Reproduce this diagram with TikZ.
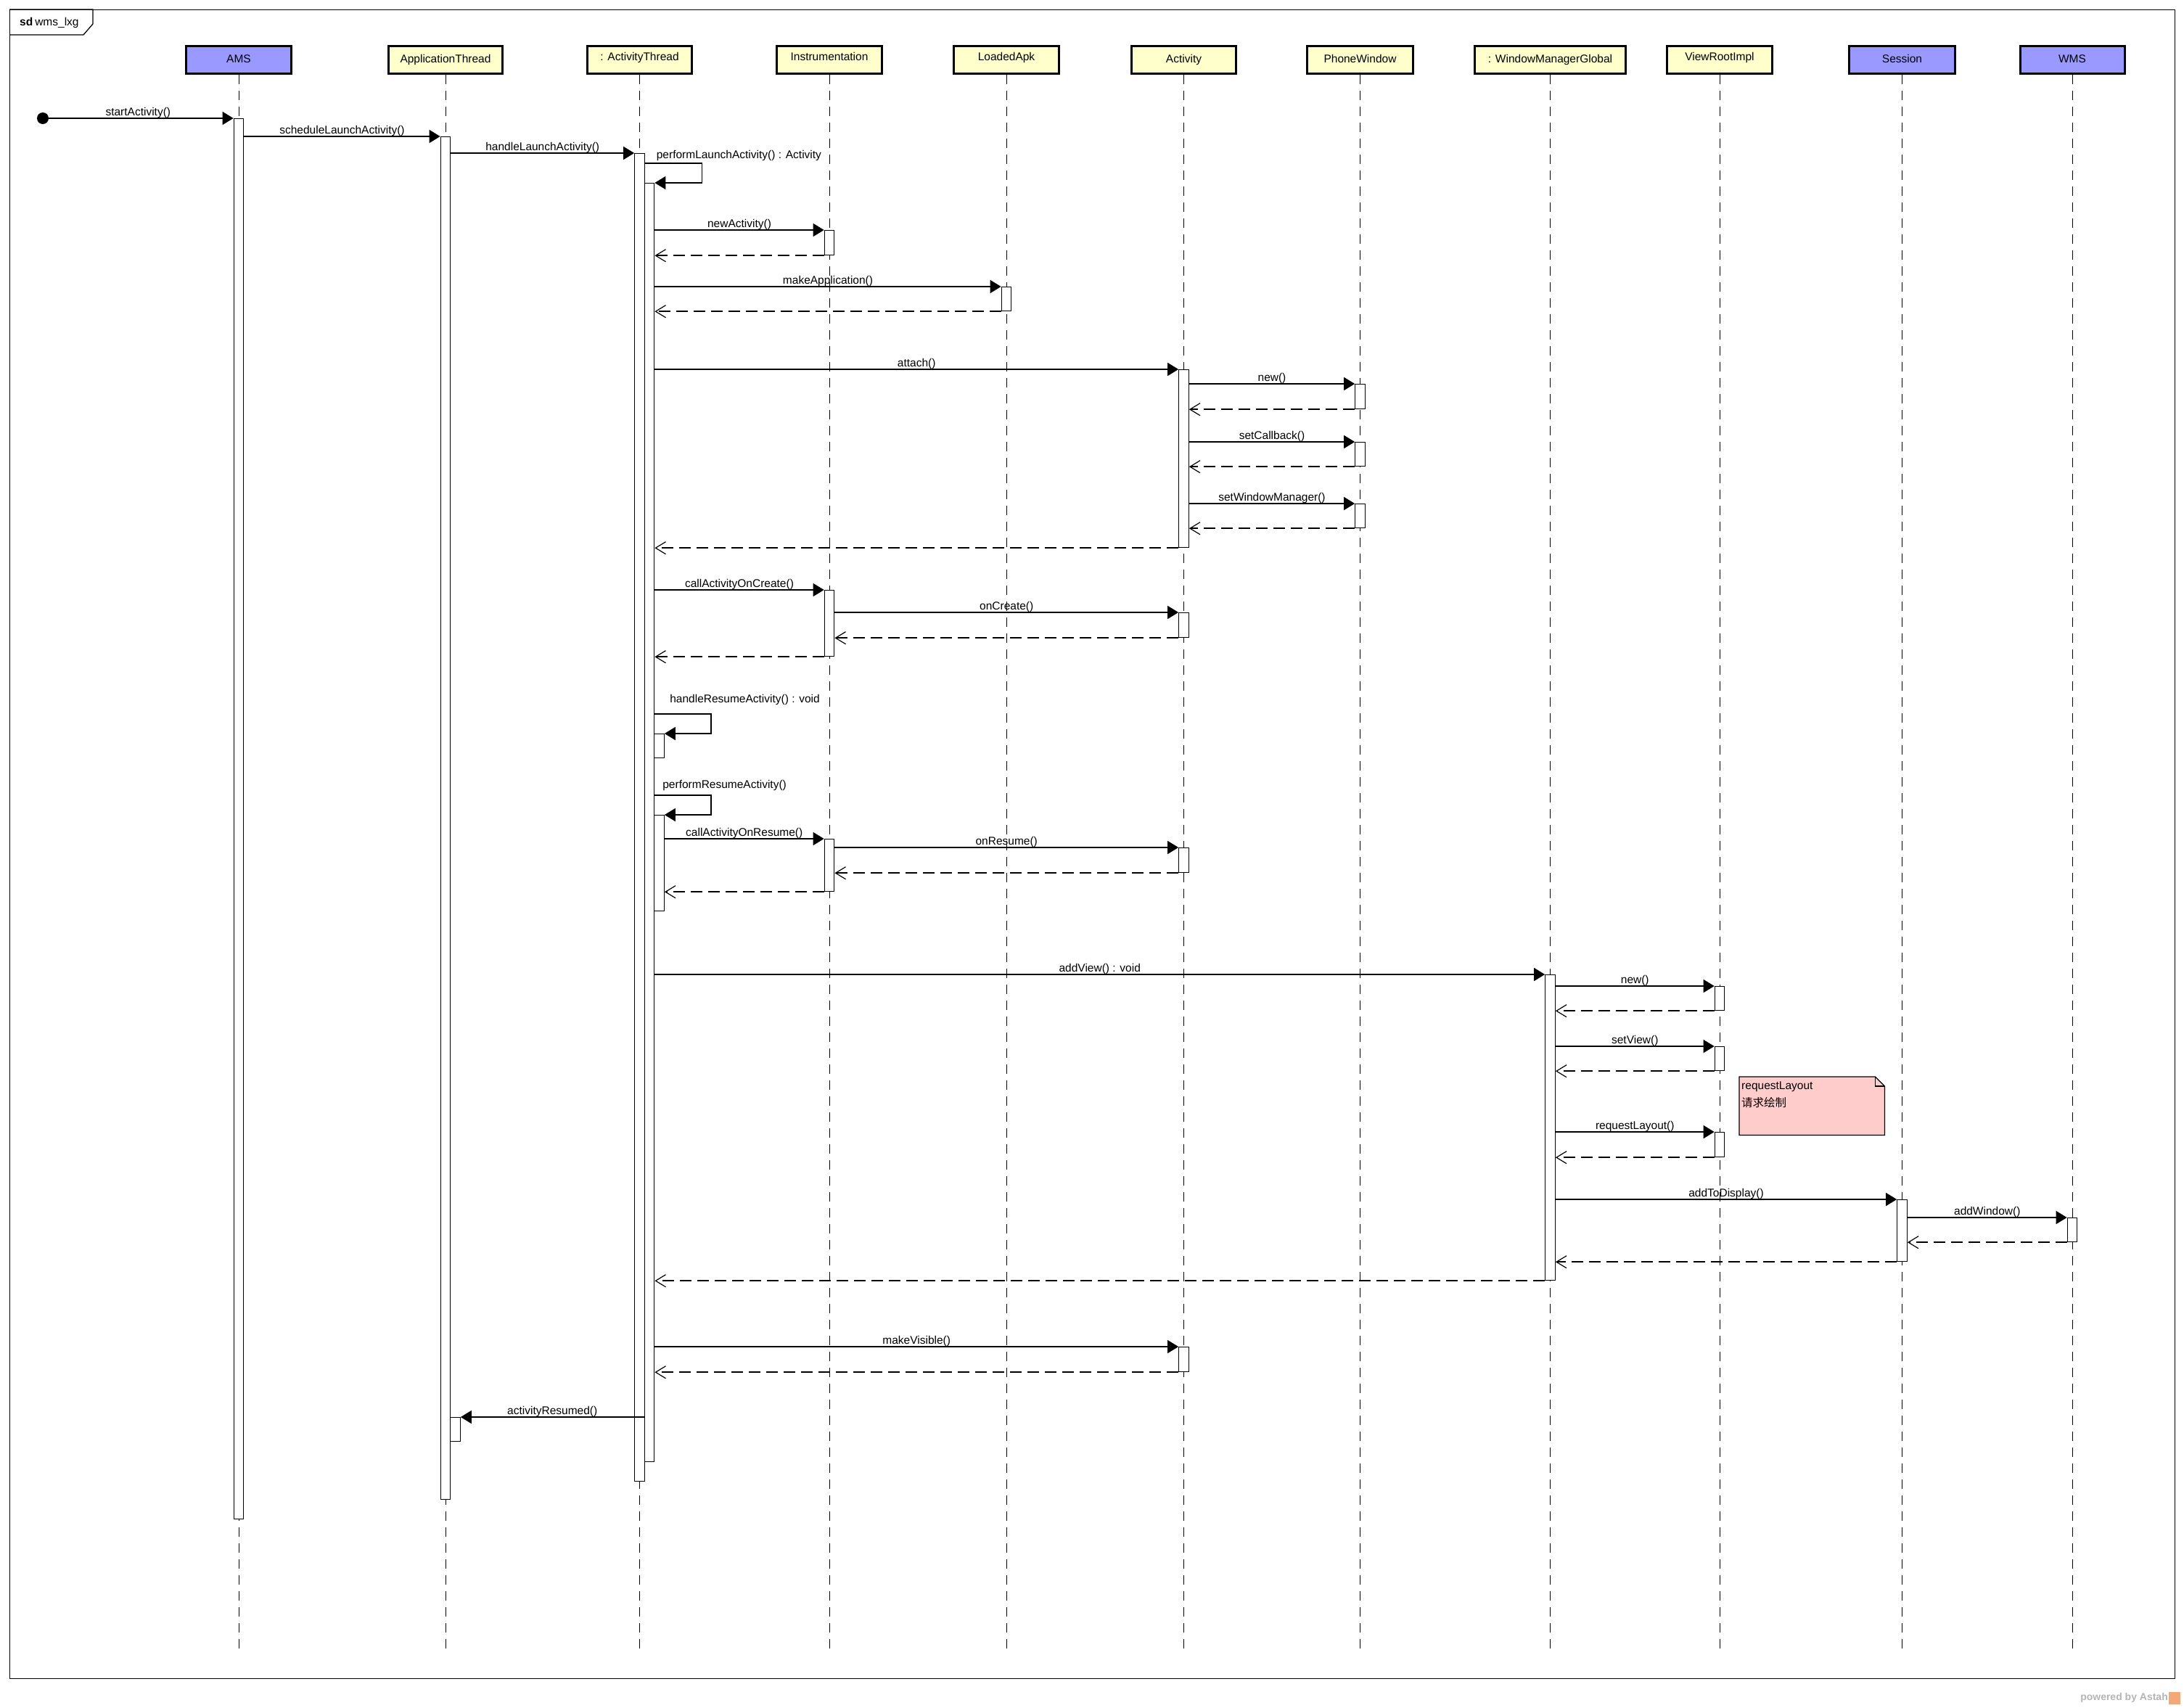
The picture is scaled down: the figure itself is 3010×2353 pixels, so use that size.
\documentclass[tikz,border=0pt]{standalone}
\usepackage{fontspec}
\setmainfont{Liberation Sans}
\newfontfamily\cjkfont{Noto Sans CJK SC}
\usetikzlibrary{arrows.meta}
\definecolor{hdrblue}{HTML}{9999FF}
\definecolor{hdryellow}{HTML}{FFFFCC}
\definecolor{notepink}{HTML}{FFCCCC}
\definecolor{astahgray}{HTML}{B4B4B4}
\definecolor{astahorange}{HTML}{F4A878}
\begin{document}
\begin{tikzpicture}[x=1pt,y=-1pt,
  font=\fontsize{15.5}{18}\selectfont,
  hdr/.style={draw, line width=3pt, minimum height=38pt, inner sep=0pt, text height=11pt, text depth=3pt},
  hdrup/.style={hdr, text depth=9pt},
  lifeline/.style={line width=1pt, dash pattern=on 13pt off 9pt},
  bar/.style={draw, fill=white, line width=1.2pt, minimum width=13.5pt, inner sep=0pt, anchor=north},
  msg/.style={line width=1.5pt, -{Triangle[length=15pt,width=18pt]}},
  ret/.style={line width=1.5pt, dash pattern=on 16pt off 8pt, -{Straight Barb[length=14pt,width=17pt,line width=1.2pt]}},
  lbl/.style={midway, above, inner sep=0pt},
  slbl/.style={anchor=west, inner sep=0pt}]
\useasboundingbox (0,0) rectangle (3010,2353);

% frame
\node[draw, line width=1.3pt, minimum width=2984pt, minimum height=2300pt, anchor=north west, inner sep=0pt] (frame) at (13,13) {};
\draw[line width=1.3pt] (frame.north west) -- ++(115,0) -- ++(0,20) -- ++(-13,15) -- ++(-102,0);
\node[anchor=west, inner sep=0pt] (sdlbl) at (27,31) {\textbf{sd}\hspace{3pt}wms\_lxg};

% headers
\node[hdr, fill=hdrblue, minimum width=145pt] (ams) at (329,82.5) {AMS};
\node[hdr, fill=hdryellow, minimum width=157pt] (app) at (614,82.5) {ApplicationThread};
\node[hdrup, fill=hdryellow, minimum width=144pt] (at) at (881.5,82.5) {: ActivityThread};
\node[hdrup, fill=hdryellow, minimum width=145pt] (inst) at (1143,82.5) {Instrumentation};
\node[hdrup, fill=hdryellow, minimum width=145pt] (load) at (1387,82.5) {LoadedApk};
\node[hdr, fill=hdryellow, minimum width=144pt] (act) at (1631.5,82.5) {Activity};
\node[hdr, fill=hdryellow, minimum width=146pt] (pw) at (1874.5,82.5) {PhoneWindow};
\node[hdr, fill=hdryellow, minimum width=208pt] (wmg) at (2136.5,82.5) {: WindowManagerGlobal};
\node[hdrup, fill=hdryellow, minimum width=145pt] (vri) at (2370,82.5) {ViewRootImpl};
\node[hdr, fill=hdrblue, minimum width=146pt] (ses) at (2621.5,82.5) {Session};
\node[hdr, fill=hdrblue, minimum width=144pt] (wms) at (2856,82.5) {WMS};

% lifelines
\coordinate (llend) at (0,2273);
\foreach \n in {ams,app,at,inst,load,act,pw,wmg,vri,ses,wms}
  \draw[lifeline] (\n.south) -- (\n.south |- llend);

% activation bars
\node[bar, minimum height=1930pt] (amsB) at (329,163) {};
\node[bar, minimum height=1878pt] (appB) at (614,188) {};
\node[bar, minimum height=1830pt] (atB1) at (881.5,211) {};
\node[bar, minimum height=1762pt] (atB2) at (895,252) {};
\node[bar, minimum height=34pt] (instB1) at (1143,317) {};
\node[bar, minimum height=33pt] (loadB) at (1387,395) {};
\node[bar, minimum height=245pt] (actB1) at (1631.5,509) {};
\node[bar, minimum height=34pt] (pwB1) at (1874.5,529) {};
\node[bar, minimum height=33pt] (pwB2) at (1874.5,609) {};
\node[bar, minimum height=33pt] (pwB3) at (1874.5,694) {};
\node[bar, minimum height=91pt] (instB2) at (1143,813) {};
\node[bar, minimum height=34pt] (actB2) at (1631.5,844) {};
\node[bar, minimum height=33pt] (atB3) at (908.5,1011) {};
\node[bar, minimum height=132pt] (atB4) at (908.5,1123) {};
\node[bar, minimum height=72pt] (instB3) at (1143,1156) {};
\node[bar, minimum height=34pt] (actB3) at (1631.5,1168) {};
\node[bar, minimum height=421pt] (wmgB) at (2136.5,1343) {};
\node[bar, minimum height=33pt] (vriB1) at (2370,1359) {};
\node[bar, minimum height=33pt] (vriB2) at (2370,1442) {};
\node[bar, minimum height=34pt] (vriB3) at (2370,1560) {};
\node[bar, minimum height=85pt] (sesB) at (2621.5,1653) {};
\node[bar, minimum height=33pt] (wmsB) at (2856,1678) {};
\node[bar, minimum height=34pt] (actB4) at (1631.5,1856) {};
\node[bar, minimum height=33pt] (appB2) at (627.5,1953) {};

% start
\node[circle, fill=black, minimum size=16pt, inner sep=0pt] (start) at (59,163) {};
\draw[msg] (start.center) -- node[lbl] {startActivity()} (amsB.north west);
\draw[msg] (amsB.east |- appB.north) -- node[lbl] {scheduleLaunchActivity()} (appB.north west);
\draw[msg] (appB.east |- atB1.north) -- node[lbl] {handleLaunchActivity()} (atB1.north west);

% performLaunchActivity self call
\path (atB2.north west) ++(0,-27) coordinate (plS);
\draw[msg] (plS) -- ++(80,0) |- (atB2.north east);
\node[slbl] (plL) at ([xshift=17pt,yshift=11pt]plS) {performLaunchActivity() : Activity};

\draw[msg] (atB2.east |- instB1.north) -- node[lbl] {newActivity()} (instB1.north west);
\draw[ret] (instB1.south west) -- (atB2.east |- instB1.south);
\draw[msg] (atB2.east |- loadB.north) -- node[lbl] {makeApplication()} (loadB.north west);
\draw[ret] (loadB.south west) -- (atB2.east |- loadB.south);
\draw[msg] (atB2.east |- actB1.north) -- node[lbl] {attach()} (actB1.north west);
\draw[msg] (actB1.east |- pwB1.north) -- node[lbl] {new()} (pwB1.north west);
\draw[ret] (pwB1.south west) -- (actB1.east |- pwB1.south);
\draw[msg] (actB1.east |- pwB2.north) -- node[lbl] {setCallback()} (pwB2.north west);
\draw[ret] (pwB2.south west) -- (actB1.east |- pwB2.south);
\draw[msg] (actB1.east |- pwB3.north) -- node[lbl] {setWindowManager()} (pwB3.north west);
\draw[ret] (pwB3.south west) -- (actB1.east |- pwB3.south);
\draw[ret] (actB1.south west) -- (atB2.east |- actB1.south);

\draw[msg] (atB2.east |- instB2.north) -- node[lbl] {callActivityOnCreate()} (instB2.north west);
\draw[msg] (instB2.east |- actB2.north) -- node[lbl] {onCreate()} (actB2.north west);
\draw[ret] (actB2.south west) -- (instB2.east |- actB2.south);
\draw[ret] (instB2.south west) -- (atB2.east |- instB2.south);

% handleResumeActivity self call
\path (atB3.north west) ++(0,-27) coordinate (hrS);
\draw[msg] (hrS) -- ++(79,0) |- (atB3.north east);
\node[slbl] (hrL) at ([xshift=22pt,yshift=20pt]hrS) {handleResumeActivity() : void};

% performResumeActivity self call
\path (atB4.north west) ++(0,-27) coordinate (prS);
\draw[msg] (prS) -- ++(79,0) |- (atB4.north east);
\node[slbl] (prL) at ([xshift=12pt,yshift=14pt]prS) {performResumeActivity()};

\draw[msg] (atB4.east |- instB3.north) -- node[lbl] {callActivityOnResume()} (instB3.north west);
\draw[msg] (instB3.east |- actB3.north) -- node[lbl] {onResume()} (actB3.north west);
\draw[ret] (actB3.south west) -- (instB3.east |- actB3.south);
\draw[ret] (instB3.south west) -- (atB4.east |- instB3.south);

\draw[msg] (atB2.east |- wmgB.north) -- node[lbl] {addView() : void} (wmgB.north west);
\draw[msg] (wmgB.east |- vriB1.north) -- node[lbl] {new()} (vriB1.north west);
\draw[ret] (vriB1.south west) -- (wmgB.east |- vriB1.south);
\draw[msg] (wmgB.east |- vriB2.north) -- node[lbl] {setView()} (vriB2.north west);
\draw[ret] (vriB2.south west) -- (wmgB.east |- vriB2.south);
\draw[msg] (wmgB.east |- vriB3.north) -- node[lbl] {requestLayout()} (vriB3.north west);
\draw[ret] (vriB3.south west) -- (wmgB.east |- vriB3.south);
\draw[msg] (wmgB.east |- sesB.north) -- node[lbl] {addToDisplay()} (sesB.north west);
\draw[msg] (sesB.east |- wmsB.north) -- node[lbl] {addWindow()} (wmsB.north west);
\draw[ret] (wmsB.south west) -- (sesB.east |- wmsB.south);
\draw[ret] (sesB.south west) -- (wmgB.east |- sesB.south);
\draw[ret] (wmgB.south west) -- (atB2.east |- wmgB.south);

\draw[msg] (atB2.east |- actB4.north) -- node[lbl] {makeVisible()} (actB4.north west);
\draw[ret] (actB4.south west) -- (atB2.east |- actB4.south);
\draw[msg] (atB2.west |- appB2.north) -- node[lbl] {activityResumed()} (appB2.north east);

% note
\node[minimum width=200pt, minimum height=80pt, anchor=north west, inner sep=0pt] (note) at (2397,1484) {};
\draw[line width=1.2pt, fill=notepink] (note.north west) -- ([xshift=-13pt]note.north east) -- ([yshift=-13pt]note.north east) -- (note.south east) -- (note.south west) -- cycle;
\draw[line width=1.2pt] ([xshift=-13pt]note.north east) |- ([yshift=-13pt]note.north east);
\node[anchor=base west, inner sep=0pt] (noteA) at (2400,1501) {requestLayout};
\node[anchor=base west, inner sep=0pt] (noteB) at (2400,1525) {\cjkfont 请求绘制};

% powered by
\node[anchor=east, inner sep=0pt, text=astahgray, font=\bfseries\fontsize{14}{16}\selectfont] (pwrd) at (2988,2340) {powered by Astah};
\node[anchor=west, inner sep=0pt, fill=astahorange, minimum width=16pt, minimum height=17pt] (logo) at (2989,2340) {};
\end{tikzpicture}
\end{document}
